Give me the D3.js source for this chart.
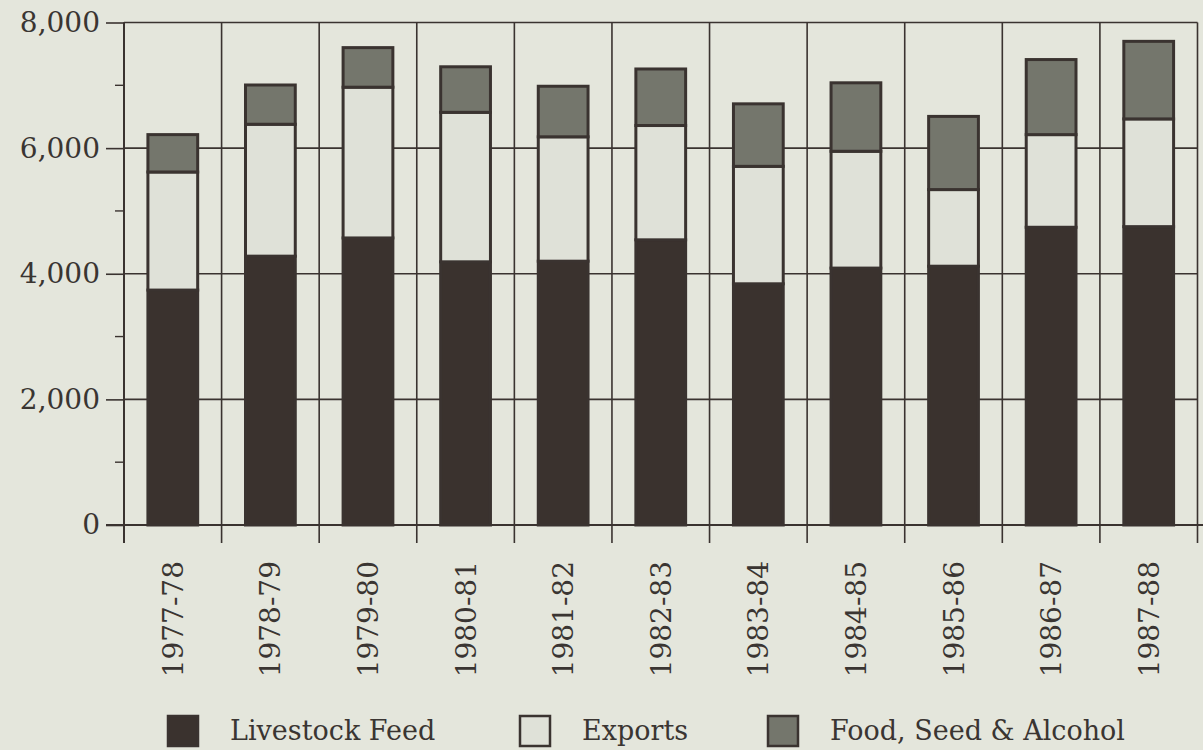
<!DOCTYPE html>
<html>
<head>
<meta charset="utf-8">
<script src="https://cdn.jsdelivr.net/npm/d3@7"></script>
<style>
  html, body { margin: 0; padding: 0; background: #e4e6dc; }
  svg { display: block; }
  text { font-family: "DejaVu Serif", serif; fill: #3a3532; }
</style>
</head>
<body>
<svg id="chart" width="1203" height="750"></svg>
<script>
const categories = ["1977-78","1978-79","1979-80","1980-81","1981-82","1982-83","1983-84","1984-85","1985-86","1986-87","1987-88"];
const livestockFeed = [3740, 4280, 4570, 4190, 4200, 4540, 3840, 4090, 4120, 4740, 4750];
const exportsVals   = [1880, 2100, 2400, 2380, 1980, 1820, 1870, 1860, 1220, 1475, 1715];
const foodSeedAlc   = [ 595,  625,  630,  725,  805,  900,  995, 1090, 1165, 1195, 1235];
const seriesNames = ["Livestock Feed", "Exports", "Food, Seed & Alcohol"];
const yTicks = [0, 2000, 4000, 6000, 8000];
const yMinorTicks = [1000, 3000, 5000, 7000];

const colors = { "Livestock Feed": "#3a322e", "Exports": "#dfe1d8", "Food, Seed & Alcohol": "#74766c" };
const ink = "#3a3330";

const svg = d3.select("#chart");
const mLeft = 124, mRight = 1197.5, mTop = 22.5, mBottom = 525;

const rows = categories.map((c, i) => ({
  cat: c,
  "Livestock Feed": livestockFeed[i],
  "Exports": exportsVals[i],
  "Food, Seed & Alcohol": foodSeedAlc[i]
}));
const stacked = d3.stack().keys(seriesNames)(rows);

const xGrid = d3.scaleBand().domain(categories).range([mLeft, mRight]).padding(0);
const x = d3.scaleBand().domain(categories).range([mLeft, mRight]).paddingInner(0.49).paddingOuter(0.245);
const y = d3.scaleLinear().domain([0, 8000]).range([mBottom, mTop]);

// horizontal gridlines
svg.append("g").selectAll("line").data(yTicks.filter(d => d > 0)).join("line")
  .attr("x1", mLeft).attr("x2", mRight)
  .attr("y1", d => y(d)).attr("y2", d => y(d))
  .attr("stroke", ink).attr("stroke-width", 1.6);

// vertical gridlines at category boundaries
const boundaries = categories.map(c => xGrid(c)).concat([xGrid(categories[categories.length-1]) + xGrid.bandwidth()]);
svg.append("g").selectAll("line").data(boundaries).join("line")
  .attr("x1", d => d).attr("x2", d => d)
  .attr("y1", mTop).attr("y2", mBottom + 18)
  .attr("stroke", ink).attr("stroke-width", 1.6);

// bars
const layers = svg.append("g").selectAll("g").data(stacked).join("g")
  .attr("fill", d => colors[d.key]);
layers.selectAll("rect").data(d => d).join("rect")
  .attr("x", d => x(d.data.cat))
  .attr("width", x.bandwidth())
  .attr("y", d => y(d[1]))
  .attr("height", d => y(d[0]) - y(d[1]))
  .attr("stroke", ink).attr("stroke-width", 3);

// y axis
const yAxis = d3.axisLeft(y).tickValues(yTicks).tickSize(18).tickPadding(6).tickFormat(d3.format(","));
const ga = svg.append("g").attr("transform", `translate(${mLeft},0)`).call(yAxis);
ga.select(".domain").attr("stroke", ink).attr("stroke-width", 2).attr("d", `M0,${mTop}V${mBottom + 18}`);
ga.selectAll(".tick line").attr("stroke", ink).attr("stroke-width", 1.6);
ga.selectAll(".tick text").attr("font-size", 28).attr("fill", "#3a3532").style("font-family", "DejaVu Serif");
svg.append("g").selectAll("line").data(yMinorTicks).join("line")
  .attr("x1", mLeft - 9).attr("x2", mLeft)
  .attr("y1", d => y(d)).attr("y2", d => y(d))
  .attr("stroke", ink).attr("stroke-width", 1.4);

// x baseline
svg.append("line").attr("x1", mLeft - 18).attr("x2", 1203)
  .attr("y1", mBottom).attr("y2", mBottom).attr("stroke", ink).attr("stroke-width", 2.2);

// x labels
const xAxis = d3.axisBottom(x).tickSize(0).tickPadding(0);
const gx = svg.append("g").attr("transform", `translate(0,${mBottom})`).call(xAxis);
gx.select(".domain").remove();
gx.selectAll(".tick text")
  .attr("font-size", 28).style("font-family", "DejaVu Serif").attr("fill", "#3a3532")
  .attr("text-anchor", "end")
  .attr("dy", null)
  .attr("transform", "translate(10,36) rotate(-90)")
  .attr("x", 0).attr("y", 0);

// legend
const legendItems = [
  { name: "Livestock Feed", sx: 167 },
  { name: "Exports", sx: 519 },
  { name: "Food, Seed & Alcohol", sx: 767 }
];
const lg = svg.append("g").selectAll("g").data(legendItems).join("g")
  .attr("transform", d => `translate(${d.sx},715)`);
lg.append("rect").attr("x", 1).attr("y", 1).attr("width", 30).attr("height", 30)
  .attr("fill", d => colors[d.name]).attr("stroke", ink).attr("stroke-width", 2.5);
lg.append("text").attr("x", 63).attr("y", 25).attr("font-size", 27).text(d => d.name);
</script>
</body>
</html>
